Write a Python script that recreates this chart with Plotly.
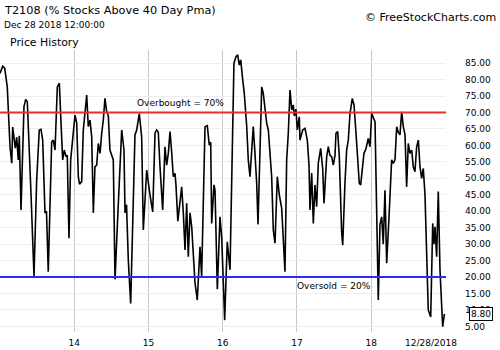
import plotly.graph_objects as go

# time in decimal years, T2108 values (%)
years = [
    2013.000, 2013.036, 2013.063, 2013.098, 2013.135, 2013.158, 2013.171, 2013.193, 2013.206, 2013.225,
    2013.246, 2013.260, 2013.283, 2013.323, 2013.346, 2013.368, 2013.391, 2013.418, 2013.458, 2013.494,
    2013.529, 2013.552, 2013.575, 2013.606, 2013.626, 2013.650, 2013.696, 2013.718, 2013.741, 2013.772,
    2013.799, 2013.818, 2013.844, 2013.866, 2013.889, 2013.906, 2013.929, 2013.952, 2013.979, 2014.010,
    2014.033, 2014.055, 2014.071, 2014.100, 2014.122, 2014.145, 2014.168, 2014.189, 2014.212, 2014.235,
    2014.257, 2014.279, 2014.302, 2014.324, 2014.347, 2014.370, 2014.391, 2014.414, 2014.437, 2014.459,
    2014.481, 2014.526, 2014.549, 2014.589, 2014.639, 2014.670, 2014.684, 2014.704, 2014.728, 2014.760,
    2014.791, 2014.818, 2014.841, 2014.863, 2014.876, 2014.908, 2014.930, 2014.976, 2014.997,
    2015.020, 2015.057, 2015.088, 2015.110, 2015.132, 2015.155, 2015.191, 2015.222, 2015.245, 2015.267,
    2015.290, 2015.312, 2015.334, 2015.357, 2015.370, 2015.395, 2015.447, 2015.469, 2015.492, 2015.514,
    2015.536, 2015.559, 2015.582, 2015.626, 2015.657, 2015.694, 2015.716, 2015.761, 2015.792, 2015.819,
    2015.838, 2015.851, 2015.882, 2015.896, 2015.927, 2015.963, 2015.986,
    2016.026, 2016.061, 2016.098, 2016.151, 2016.178, 2016.201, 2016.223, 2016.242, 2016.269, 2016.290,
    2016.323, 2016.344, 2016.367, 2016.390, 2016.411, 2016.434, 2016.457, 2016.475, 2016.525, 2016.546,
    2016.592, 2016.614, 2016.636, 2016.659, 2016.681, 2016.704, 2016.735, 2016.762, 2016.794, 2016.816,
    2016.838, 2016.861, 2016.883, 2016.906, 2016.929, 2016.950, 2016.964, 2016.986,
    2017.004, 2017.031, 2017.040, 2017.077, 2017.108, 2017.139, 2017.162, 2017.175, 2017.198, 2017.220,
    2017.242, 2017.265, 2017.287, 2017.319, 2017.346, 2017.364, 2017.400, 2017.422, 2017.444, 2017.467,
    2017.489, 2017.512, 2017.525, 2017.548, 2017.570, 2017.602, 2017.616, 2017.646, 2017.669, 2017.691,
    2017.714, 2017.745, 2017.768, 2017.795, 2017.812, 2017.839, 2017.858, 2017.879, 2017.902, 2017.929,
    2017.960, 2017.983,
    2018.006, 2018.028, 2018.051, 2018.095, 2018.118, 2018.141, 2018.162, 2018.185, 2018.208, 2018.239,
    2018.275, 2018.297, 2018.320, 2018.343, 2018.364, 2018.387, 2018.410, 2018.432, 2018.455, 2018.477,
    2018.499, 2018.522, 2018.545, 2018.566, 2018.589, 2018.612, 2018.634, 2018.657, 2018.679, 2018.701,
    2018.724, 2018.768, 2018.801, 2018.828, 2018.845, 2018.859, 2018.881, 2018.903, 2018.926, 2018.962,
    2018.986,
]
values = [
    81.9, 84.1, 83.5, 77.8, 59.6, 54.6, 65.6, 61.6, 59.2, 62.5,
    55.6, 62.9, 40.4, 71.8, 74.0, 73.3, 58.0, 45.0, 20.3, 49.5,
    64.7, 64.9, 61.6, 39.5, 40.0, 21.6, 61.1, 61.6, 58.6, 77.8,
    78.9, 68.7, 55.6, 58.6, 56.6, 57.0, 31.8, 55.6, 61.6, 69.2,
    66.8, 50.5, 48.2, 49.0, 64.7, 69.7, 75.3, 65.7, 67.7, 62.6,
    39.5, 53.5, 54.0, 60.6, 57.6, 63.7, 67.7, 74.3, 70.2, 69.0,
    58.6, 55.6, 19.3, 40.0, 64.7, 58.6, 39.5, 42.0, 25.2, 12.0,
    40.0, 63.2, 64.7, 67.2, 69.7, 62.6, 34.3, 52.5, 48.0,
    45.0, 39.8, 63.8, 64.7, 64.0, 53.5, 40.4, 59.6, 54.0, 57.6,
    64.2, 58.0, 50.5, 51.5, 48.0, 37.0, 47.4, 39.5, 28.2, 42.4,
    26.2, 39.5, 35.3, 18.4, 13.0, 29.2, 20.1, 65.7, 66.0, 60.1,
    61.0, 36.3, 48.0, 46.4, 16.3, 38.3, 32.0,
    6.9, 30.7, 22.2, 84.9, 87.0, 87.5, 84.4, 86.0, 79.9, 75.8,
    65.7, 55.6, 50.5, 58.6, 65.7, 57.6, 48.6, 36.0, 77.8, 75.8,
    66.7, 64.7, 56.6, 50.5, 34.3, 30.3, 50.5, 45.0, 40.9, 30.2,
    21.6, 55.6, 63.7, 76.8, 70.8, 72.3, 69.0, 71.0,
    64.7, 68.7, 61.6, 64.7, 65.2, 61.6, 54.0, 40.4, 51.6, 36.3,
    48.0, 41.4, 54.6, 59.1, 53.0, 42.4, 56.6, 59.6, 57.0, 56.6,
    54.0, 57.0, 63.7, 64.2, 56.6, 33.3, 29.7, 48.5, 58.6, 61.6,
    69.7, 74.3, 72.3, 63.7, 58.6, 48.5, 48.0, 52.5, 57.6, 59.0,
    62.1, 59.6,
    69.7, 68.5, 67.2, 13.0, 36.0, 38.3, 30.0, 46.4, 24.2, 38.0,
    55.6, 54.5, 55.6, 65.7, 64.0, 63.2, 70.2, 65.7, 63.2, 47.4,
    60.6, 57.6, 58.6, 53.5, 52.0, 59.6, 61.6, 53.5, 50.0, 53.0,
    45.0, 10.0, 7.9, 36.3, 30.0, 35.3, 26.2, 46.0, 22.2, 4.9,
    8.8,
]

year_ticks = [2014, 2015, 2016, 2017, 2018]
year_labels = ["14", "15", "16", "17", "18"]
y_ticks = [5, 10, 15, 20, 25, 30, 35, 40, 45, 50, 55, 60, 65, 70, 75, 80, 85]
overbought = 70
oversold = 20
last_value = values[-1]
last_date_label = "12/28/2018"

FONT = "DejaVu Sans"
W, H = 500, 350
PW, PH = 446, 282  # plot area size in px
TOP = 50

def px(xp):
    return xp / PW

def py(yp):
    return (TOP + PH - yp) / PH

fig = go.Figure()
fig.add_trace(go.Scatter(
    x=years, y=values, mode="lines",
    line=dict(color="black", width=1.6),
    hoverinfo="skip", showlegend=False,
))

fig.add_shape(type="line", xref="paper", yref="y", x0=0, x1=1,
              y0=overbought, y1=overbought, line=dict(color="#f22a2a", width=2))
fig.add_shape(type="line", xref="paper", yref="y", x0=0, x1=1,
              y0=oversold, y1=oversold, line=dict(color="#2b2bf5", width=2))

ann = [
    dict(text="T2108 (% Stocks Above 40 Day Pma)", x=px(2), y=py(10), xanchor="left",
         yanchor="middle", font=dict(size=11.3, color="black", family=FONT)),
    dict(text="Dec 28 2018 12:00:00", x=px(2), y=py(25), xanchor="left",
         yanchor="middle", font=dict(size=9, color="black", family=FONT)),
    dict(text="Price History", x=px(8), y=py(43), xanchor="left",
         yanchor="middle", font=dict(size=10.9, color="black", family=FONT)),
    dict(text="© FreeStockCharts.com", x=px(498), y=py(17), xanchor="right",
         yanchor="middle", font=dict(size=11, color="black", family=FONT)),
    dict(text="Overbought = 70%", x=px(180), y=py(102.5), xanchor="center",
         yanchor="middle", font=dict(size=9, color="black", family=FONT)),
    dict(text="Oversold = 20%", x=px(334), y=py(286), xanchor="center",
         yanchor="middle", font=dict(size=9, color="black", family=FONT)),
    dict(text=last_date_label, x=px(431), y=py(343), xanchor="center",
         yanchor="middle", font=dict(size=9, color="black", family=FONT)),
]
for a in ann:
    a.update(xref="paper", yref="paper", showarrow=False)

ann.append(dict(text=f"{last_value:.2f}", xref="paper", yref="y", x=px(480.5), y=last_value,
                xanchor="center", yanchor="middle", showarrow=False,
                font=dict(size=9, color="black", family=FONT),
                bgcolor="white", bordercolor="black", borderwidth=1, borderpad=1))

fig.update_layout(
    width=W, height=H,
    margin=dict(l=0, r=W - PW, t=TOP, b=H - TOP - PH, pad=0),
    paper_bgcolor="white", plot_bgcolor="white",
    annotations=ann,
    xaxis=dict(
        range=[2013.0, 2019.007], tickmode="array", tickvals=year_ticks, ticktext=year_labels,
        showgrid=True, gridcolor="#c8c8c8", gridwidth=1, zeroline=False, showline=False,
        ticks="", ticklabelstandoff=4, tickfont=dict(size=9, color="black", family=FONT),
    ),
    yaxis=dict(
        range=[3.3, 89], side="right", tickmode="array", tickvals=y_ticks,
        ticktext=[f"{v:.2f}" for v in y_ticks],
        showgrid=True, gridcolor="#eeeeee", gridwidth=1, zeroline=False, showline=False,
        ticks="", ticklabelstandoff=18,
        tickfont=dict(size=9, color="black", family=FONT),
    ),
)

fig.write_html("out.html")
